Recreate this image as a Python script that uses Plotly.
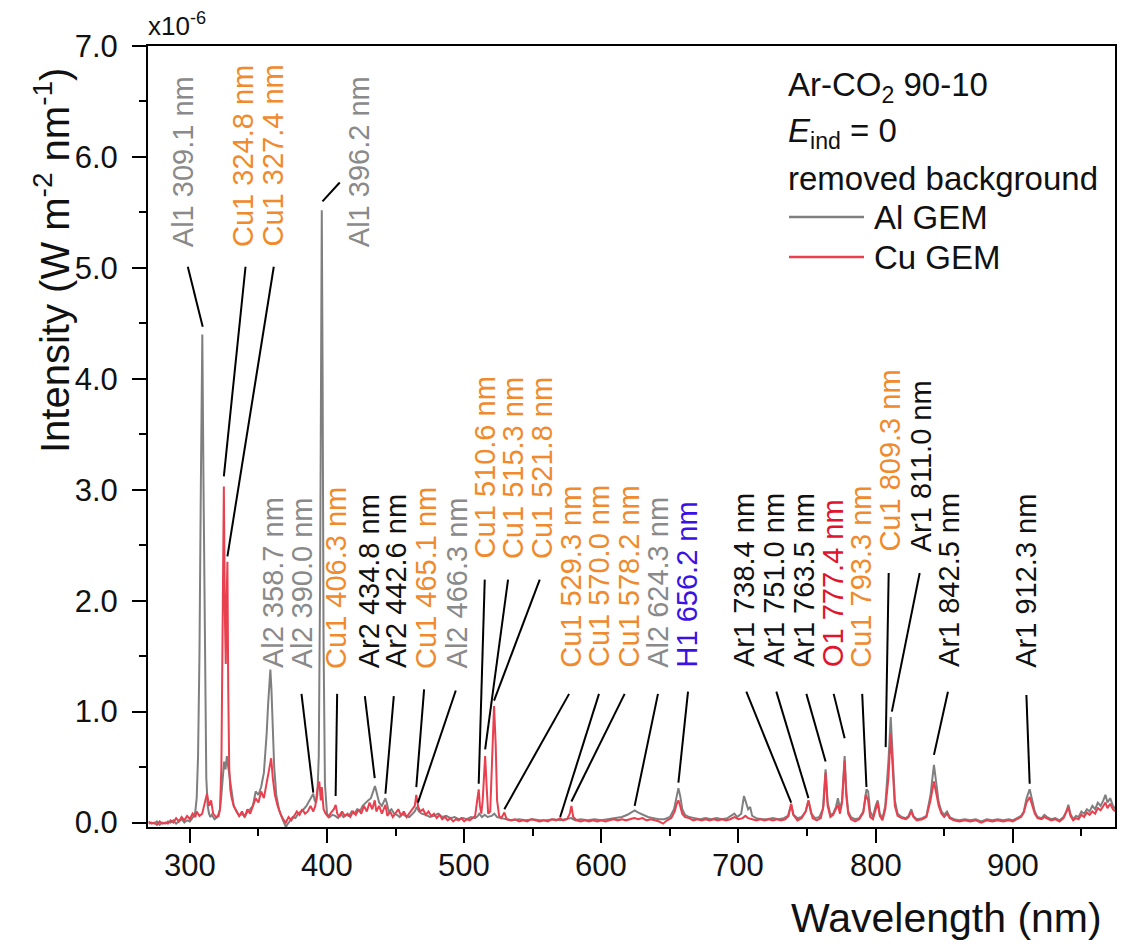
import plotly.graph_objects as go

# Emission spectra, intensity in units of 1e-6 W m^-2 nm^-1
AL_WL = [270, 272, 274, 276, 278, 280, 282, 284, 286, 288, 290, 292, 294, 296, 298, 300, 302, 303, 304, 305,
         306, 307, 308, 309.1, 310, 311, 312, 313, 314, 315, 316, 318, 320, 321, 322, 323, 324, 325, 326, 327,
         328, 329, 330, 331, 332, 334, 336, 338, 340, 342, 344, 346, 348, 350, 352, 354, 355, 356, 357, 358,
         358.7, 359.5, 360.5, 361.5, 363, 365, 367, 369, 370, 371, 373, 375, 377, 379, 381, 383, 385, 387, 389, 390,
         391, 392, 393, 394, 395, 395.6, 396.2, 396.8, 397.5, 398.5, 400, 402, 404, 406, 408, 410, 412, 414, 416, 418,
         420, 422, 424, 426, 428, 430, 432, 434, 435, 436, 438, 440, 442, 442.6, 443.5, 445, 447, 449, 451, 453,
         455, 457, 460, 462, 464, 465.5, 467, 469, 472, 475, 478, 481, 484, 487, 490, 493, 496, 499, 502, 505,
         508, 510, 511, 513, 515, 517, 520, 522, 524, 527, 530, 535, 540, 545, 550, 555, 560, 565, 570, 575,
         578, 581, 585, 590, 595, 600, 605, 610, 615, 619, 622, 624.3, 627, 630, 634, 638, 642, 646, 650, 653,
         655, 656.2, 657.5, 659, 661, 664, 668, 672, 676, 680, 684, 688, 692, 695, 697, 699, 702, 704, 705.5, 707,
         708.5, 710, 713, 717, 721, 725, 729, 733, 736, 738.4, 740, 743, 746, 749, 751, 753, 756, 759, 761.5, 763.5,
         765, 767, 769, 771, 772.5, 774, 775.5, 777.4, 778.5, 780, 782, 785, 788, 791, 793.3, 794.5, 796, 798, 800, 801.5,
         803, 805, 807, 809.3, 811, 812.5, 814, 816, 819, 822, 824, 826, 827.5, 830, 834, 837, 840, 842.5, 844, 846,
         848, 850, 852, 854, 857, 861, 865, 869, 873, 877, 881, 885, 889, 893, 897, 900, 903, 906, 908, 910,
         912.3, 914, 916, 918, 921, 923, 925, 928, 931, 934, 937, 939, 940.5, 942, 944, 946, 948, 950, 952, 954,
         956, 958, 960, 962, 964, 966, 967.5, 969, 971, 973, 975]
AL_I = [-0.01, 0.00, -0.01, 0.01, -0.02, 0.00, -0.01, 0.01, 0.00, 0.02, -0.01, 0.01, 0.03, 0.00, 0.02, 0.01, 0.04, 0.06, 0.10, 0.22,
        0.60, 1.50, 3.00, 4.40, 3.00, 1.30, 0.40, 0.15, 0.08, 0.05, 0.07, 0.03, 0.05, 0.08, 0.12, 0.25, 0.45, 0.55, 0.48, 0.60,
        0.50, 0.40, 0.30, 0.22, 0.15, 0.10, 0.06, 0.08, 0.05, 0.10, 0.12, 0.15, 0.28, 0.25, 0.32, 0.45, 0.60, 0.80, 1.05, 1.30,
        1.38, 1.20, 0.80, 0.50, 0.25, 0.12, 0.05, 0.00, -0.04, -0.02, 0.02, 0.05, 0.04, 0.08, 0.10, 0.12, 0.15, 0.20, 0.25, 0.26,
        0.20, 0.18, 0.25, 0.60, 2.20, 4.00, 5.52, 4.00, 1.60, 0.35, 0.08, 0.05, 0.07, 0.06, 0.04, 0.08, 0.05, 0.07, 0.06, 0.10,
        0.08, 0.12, 0.10, 0.15, 0.18, 0.20, 0.22, 0.30, 0.33, 0.28, 0.18, 0.15, 0.20, 0.22, 0.18, 0.10, 0.12, 0.08, 0.07, 0.05,
        0.08, 0.06, 0.05, 0.08, 0.10, 0.14, 0.10, 0.08, 0.07, 0.05, 0.06, 0.08, 0.05, 0.06, 0.04, 0.05, 0.03, 0.04, 0.03, 0.05,
        0.04, 0.06, 0.08, 0.05, 0.07, 0.05, 0.06, 0.08, 0.05, 0.04, 0.03, 0.02, 0.03, 0.02, 0.03, 0.02, 0.02, 0.03, 0.02, 0.03,
        0.04, 0.02, 0.03, 0.02, 0.03, 0.02, 0.03, 0.04, 0.05, 0.07, 0.09, 0.11, 0.09, 0.07, 0.05, 0.04, 0.03, 0.03, 0.05, 0.12,
        0.25, 0.31, 0.24, 0.12, 0.07, 0.05, 0.04, 0.03, 0.04, 0.03, 0.04, 0.03, 0.04, 0.06, 0.08, 0.05, 0.08, 0.24, 0.18, 0.12,
        0.14, 0.06, 0.04, 0.03, 0.03, 0.04, 0.03, 0.04, 0.06, 0.16, 0.07, 0.04, 0.05, 0.10, 0.20, 0.08, 0.04, 0.05, 0.12, 0.48,
        0.18, 0.07, 0.08, 0.14, 0.22, 0.12, 0.20, 0.60, 0.30, 0.10, 0.05, 0.03, 0.04, 0.10, 0.30, 0.28, 0.10, 0.05, 0.15, 0.20,
        0.08, 0.04, 0.15, 0.55, 0.95, 0.55, 0.20, 0.08, 0.05, 0.04, 0.06, 0.12, 0.06, 0.03, 0.04, 0.06, 0.25, 0.52, 0.35, 0.18,
        0.10, 0.07, 0.10, 0.05, 0.03, 0.02, 0.03, 0.02, 0.03, 0.01, 0.03, 0.02, 0.03, 0.02, 0.03, 0.02, 0.04, 0.06, 0.10, 0.22,
        0.30, 0.22, 0.10, 0.05, 0.04, 0.07, 0.05, 0.03, 0.04, 0.02, 0.05, 0.10, 0.16, 0.08, 0.03, 0.06, 0.05, 0.10, 0.08, 0.12,
        0.10, 0.15, 0.12, 0.18, 0.15, 0.20, 0.25, 0.18, 0.22, 0.15, 0.12]

CU_WL = [270, 272, 274, 276, 278, 280, 282, 284, 286, 288, 290, 292, 294, 296, 298, 300, 302, 304, 305, 307,
         309, 311, 312.5, 314, 315.5, 317, 319, 321, 322, 323, 324, 324.8, 325.5, 326.2, 326.8, 327.4, 328, 328.7, 329.5, 330.5,
         332, 334, 336, 338, 340, 342, 344, 346, 348, 350, 352, 354, 356, 358, 359.3, 360.5, 362, 364, 366, 368,
         370, 372, 374, 376, 378, 380, 382, 384, 386, 388, 390, 391.5, 393, 394.4, 395.5, 396.2, 397.5, 399, 401, 403,
         405, 406.3, 407.5, 409, 411, 413, 415, 417, 419, 421, 423, 425, 427, 429, 431, 433, 434.8, 436, 438, 440,
         442.6, 444, 446, 448, 450, 452, 454, 456, 458, 460, 462, 464, 465.1, 466.5, 468, 470, 472, 474, 476, 478,
         480, 482, 484, 486, 488, 490, 492, 494, 496, 498, 500, 502, 504, 506, 508, 509.5, 510.6, 511.5, 512.5, 513.5,
         515.3, 516.5, 517.5, 519, 520.5, 521.8, 523, 524, 525.5, 527, 529.3, 531, 534, 537, 540, 543, 546, 549, 552, 555,
         558, 561, 564, 567, 570, 572, 575, 577, 578.2, 579.5, 582, 585, 588, 591, 594, 597, 600, 603, 606, 609,
         612, 615, 618, 621, 624, 627, 630, 633, 636, 639, 642, 645, 648, 651, 653.5, 655, 656.2, 657.5, 659, 661,
         664, 667, 670, 673, 676, 679, 682, 685, 688, 691, 694, 697, 700, 703, 705, 707, 710, 713, 716, 719,
         722, 725, 728, 731, 734, 736.5, 738.4, 740, 743, 746, 749, 751, 752.5, 754, 757, 760, 762, 763.5, 765, 767,
         769, 771, 772.5, 774, 775.5, 777.4, 778.5, 780, 782, 785, 788, 791, 792.8, 794.5, 796, 798, 800, 801.5, 803, 805,
         807, 809.3, 811, 812.5, 814, 816, 819, 822, 824, 826, 827.5, 830, 834, 837, 840, 842.5, 844, 846, 848, 850,
         852, 854, 857, 861, 865, 869, 873, 877, 881, 885, 889, 893, 897, 900, 903, 906, 908, 910, 912.3, 914,
         916, 918, 921, 923, 925, 928, 931, 934, 937, 939, 940.5, 942, 944, 946, 948, 950, 952, 954, 956, 958,
         960, 962, 964, 966, 967.5, 969, 971, 973, 975]
CU_I = [0.01, -0.01, 0.00, -0.02, 0.01, -0.01, 0.00, -0.01, 0.02, 0.00, 0.04, 0.01, 0.05, 0.02, 0.06, 0.03, 0.08, 0.05, 0.10, 0.06,
        0.08, 0.18, 0.26, 0.15, 0.20, 0.08, 0.05, 0.06, 0.12, 0.50, 2.00, 3.03, 1.90, 1.43, 2.00, 2.35, 1.20, 0.50, 0.30, 0.22,
        0.15, 0.10, 0.06, 0.10, 0.05, 0.12, 0.08, 0.15, 0.22, 0.18, 0.28, 0.22, 0.35, 0.48, 0.58, 0.40, 0.25, 0.15, 0.08, 0.03,
        0.00, 0.05, 0.02, 0.06, 0.10, 0.07, 0.12, 0.08, 0.10, 0.15, 0.10, 0.15, 0.30, 0.37, 0.20, 0.32, 0.12, 0.08, 0.05, 0.09,
        0.12, 0.16, 0.08, 0.05, 0.10, 0.06, 0.08, 0.05, 0.10, 0.07, 0.12, 0.08, 0.15, 0.10, 0.18, 0.12, 0.20, 0.10, 0.15, 0.08,
        0.16, 0.06, 0.10, 0.05, 0.08, 0.12, 0.06, 0.10, 0.05, 0.08, 0.12, 0.15, 0.25, 0.14, 0.10, 0.12, 0.07, 0.10, 0.06, 0.08,
        0.04, 0.07, 0.03, 0.05, 0.02, 0.04, 0.01, 0.03, 0.02, 0.04, 0.01, 0.03, 0.02, 0.04, 0.06, 0.20, 0.30, 0.15, 0.08, 0.20,
        0.60, 0.30, 0.08, 0.10, 0.60, 1.05, 0.70, 0.20, 0.06, 0.04, 0.09, 0.03, 0.02, 0.03, 0.01, 0.02, 0.01, 0.03, 0.02, 0.01,
        0.02, 0.01, 0.03, 0.02, 0.04, 0.02, 0.03, 0.08, 0.15, 0.05, 0.02, 0.01, 0.02, 0.01, 0.02, 0.01, 0.02, 0.01, 0.02, 0.03,
        0.02, 0.03, 0.02, 0.03, 0.04, 0.03, 0.04, 0.02, 0.03, 0.02, 0.01, -0.01, 0.02, 0.04, 0.10, 0.17, 0.20, 0.15, 0.08, 0.05,
        0.04, 0.02, 0.03, 0.02, 0.03, 0.02, 0.03, 0.02, 0.03, 0.02, 0.03, 0.05, 0.03, 0.04, 0.06, 0.04, 0.03, 0.02, 0.03, 0.02,
        0.03, 0.02, 0.03, 0.02, 0.03, 0.06, 0.17, 0.07, 0.02, 0.04, 0.10, 0.20, 0.12, 0.04, 0.02, 0.04, 0.15, 0.45, 0.15, 0.05,
        0.07, 0.12, 0.16, 0.08, 0.18, 0.56, 0.25, 0.08, 0.03, 0.01, 0.03, 0.09, 0.25, 0.20, 0.05, 0.03, 0.12, 0.18, 0.06, 0.02,
        0.12, 0.40, 0.80, 0.45, 0.15, 0.06, 0.04, 0.03, 0.05, 0.10, 0.05, 0.02, 0.03, 0.05, 0.20, 0.37, 0.28, 0.15, 0.08, 0.05,
        0.08, 0.04, 0.02, 0.01, 0.02, 0.01, 0.02, 0.00, 0.02, 0.01, 0.02, 0.01, 0.02, 0.01, 0.03, 0.05, 0.09, 0.18, 0.23, 0.17,
        0.08, 0.04, 0.03, 0.05, 0.04, 0.02, 0.03, 0.01, 0.04, 0.09, 0.14, 0.06, 0.02, 0.04, 0.03, 0.07, 0.05, 0.09, 0.07, 0.10,
        0.08, 0.13, 0.11, 0.15, 0.18, 0.13, 0.17, 0.12, 0.10]

# Wavelength tick labels
X_TICKS = [300, 400, 500, 600, 700, 800, 900]

# Line identifications: text, species and peak wavelength
LINE_TEXT = ["Al1 309.1 nm", "Cu1 324.8 nm", "Cu1 327.4 nm", "Al1 396.2 nm",
             "Al2 358.7 nm", "Al2 390.0 nm", "Cu1 406.3 nm", "Ar2 434.8 nm", "Ar2 442.6 nm",
             "Cu1 465.1 nm", "Al2 466.3 nm", "Cu1 510.6 nm", "Cu1 515.3 nm", "Cu1 521.8 nm",
             "Cu1 529.3 nm", "Cu1 570.0 nm", "Cu1 578.2 nm", "Al2 624.3 nm", "H1 656.2 nm",
             "Ar1 738.4 nm", "Ar1 751.0 nm", "Ar1 763.5 nm", "O1 777.4 nm", "Cu1 793.3 nm",
             "Cu1 809.3 nm", "Ar1 811.0 nm", "Ar1 842.5 nm", "Ar1 912.3 nm"]
LINE_WL = [309.1, 324.8, 327.4, 396.2, 358.7, 390.0, 406.3, 434.8, 442.6, 465.1, 466.3, 510.6, 515.3, 521.8,
           529.3, 570.0, 578.2, 624.3, 656.2, 738.4, 751.0, 763.5, 777.4, 793.3, 809.3, 811.0, 842.5, 912.3]
LINE_SPECIES = ["Al", "Cu", "Cu", "Al", "Al", "Al", "Cu", "Ar", "Ar", "Cu", "Al", "Cu", "Cu", "Cu",
                "Cu", "Cu", "Cu", "Al", "H", "Ar", "Ar", "Ar", "O", "Cu", "Cu", "Ar", "Ar", "Ar"]

SPECIES_COLOR = {"Al": "#8a8a8a", "Cu": "#f08a2c", "Ar": "#111111", "H": "#3a12e6", "O": "#e0142c"}

# Label placement: label centre x, label base y, leader top (x, y), leader end y, leader end x offset
LABEL_X = [295.6, 338.8, 360.3, 423.9, 360.7, 381.4, 406.9, 431.2, 450.7, 472.5, 494.4, 515.0, 535.2, 556.3,
           578.2, 598.8, 620.2, 641.3, 662.5, 704.5, 726.4, 748.3, 769.4, 789.6, 810.2, 833.3, 853.9, 909.9]
LABEL_Y = [5.18, 5.18, 5.18, 5.18, 1.38, 1.38, 1.38, 1.38, 1.38, 1.38, 1.38, 2.37, 2.37, 2.37,
           1.39, 1.39, 1.39, 1.39, 1.39, 1.39, 1.39, 1.39, 1.39, 1.39, 2.43, 2.43, 1.39, 1.39]
LEAD_X0 = [298.5, 340.6, 361.2, 409.3, None, 381.4, 407.4, 427.6, 448.7, 470.8, 493.9, 515.0, 532.0, 555.1,
           576.5, 598.3, 617.0, 641.3, 663.2, 705.7, 727.6, 749.5, 769.4, 790.2, 809.5, 832.1, 852.7, 909.9]
LEAD_Y0 = [5.01, 5.01, 5.01, 5.77, None, 1.16, 1.16, 1.14, 1.14, 1.20, 1.19, 2.19, 2.19, 2.19,
           1.16, 1.16, 1.16, 1.16, 1.18, 1.18, 1.18, 1.16, 1.16, 1.16, 2.25, 2.25, 1.18, 1.15]
LEAD_Y1 = [4.47, 3.12, 2.40, 5.60, None, 0.27, 0.24, 0.40, 0.26, 0.32, 0.18, 0.35, 0.66, 1.10,
           0.12, 0.05, 0.19, 0.15, 0.36, 0.18, 0.22, 0.55, 0.76, 0.32, 0.68, 1.00, 0.61, 0.35]
LEAD_DX = [0.3, 0, 0, 0.5, 0, 0, 0, 0, 0, 0, 0, 0, 0, 0, 0, 0, 0, 0, 0, 0, 0, 0, 0, 0, -2.0, 0.8, 0, 0]

FONT = "Liberation Sans, Arial, sans-serif"
GRAY = "#7f7f7f"
RED = "#e8404e"

fig = go.Figure()
fig.add_trace(go.Scatter(x=AL_WL, y=AL_I, mode="lines", name="Al GEM",
                         line=dict(color=GRAY, width=2), showlegend=False))
fig.add_trace(go.Scatter(x=CU_WL, y=CU_I, mode="lines", name="Cu GEM",
                         line=dict(color=RED, width=2), showlegend=False))

annotations = []
shapes = []
for i, text in enumerate(LINE_TEXT):
    annotations.append(dict(x=LABEL_X[i], y=LABEL_Y[i], xref="x", yref="y", text=text,
                            textangle=-90, showarrow=False, xanchor="center", yanchor="bottom",
                            borderpad=0,
                            font=dict(family=FONT, size=29, color=SPECIES_COLOR[LINE_SPECIES[i]])))
    if LEAD_X0[i] is not None:
        shapes.append(dict(type="line", xref="x", yref="y",
                           x0=LEAD_X0[i], y0=LEAD_Y0[i], x1=LINE_WL[i] + LEAD_DX[i], y1=LEAD_Y1[i],
                           line=dict(color="black", width=2)))

# plot area in pixels: x 148..1115, y 46..827
def px(xp):
    return (xp - 148) / 967.0

def py(yp):
    return (827 - yp) / 781.0

# wavelength tick labels, set a little closer to the axis than the default placement
for t in X_TICKS:
    annotations.append(dict(x=t, y=py(866), xref="x", yref="paper", text=str(t), showarrow=False,
                            xanchor="center", yanchor="middle", borderpad=0,
                            font=dict(family=FONT, size=31, color="#111111")))

# legend block
legend_lines = [("Ar-CO<sub>2</sub> 90-10", 87), ("<i>E</i><sub>ind</sub> = 0", 133), ("removed background", 178)]
for txt, yc in legend_lines:
    annotations.append(dict(x=px(787), y=py(yc), xref="paper", yref="paper", text=txt, showarrow=False,
                            xanchor="left", yanchor="middle", borderpad=0,
                            font=dict(family=FONT, size=33, color="#111111")))
for name, color, yc in [("Al GEM", GRAY, 217), ("Cu GEM", RED, 257)]:
    shapes.append(dict(type="line", xref="paper", yref="paper", x0=px(789), x1=px(864), y0=py(yc), y1=py(yc),
                       line=dict(color=color, width=2.5)))
    annotations.append(dict(x=px(873), y=py(yc), xref="paper", yref="paper", text=name, showarrow=False,
                            xanchor="left", yanchor="middle", borderpad=0,
                            font=dict(family=FONT, size=33, color="#111111")))

# axis titles and multiplier
annotations.append(dict(x=px(52), y=py(261), xref="paper", yref="paper",
                        text="Intensity (W m<sup>-2</sup> nm<sup>-1</sup>)", textangle=-90, showarrow=False,
                        xanchor="center", yanchor="middle", font=dict(family=FONT, size=40, color="#111111")))
annotations.append(dict(x=px(1104), y=py(918), xref="paper", yref="paper", text="Wavelength (nm)",
                        showarrow=False, xanchor="right", yanchor="middle",
                        font=dict(family=FONT, size=41, color="#111111")))
annotations.append(dict(x=px(147), y=py(42), xref="paper", yref="paper", text="x10<sup>-6</sup>",
                        showarrow=False, xanchor="left", yanchor="bottom", borderpad=0,
                        font=dict(family=FONT, size=26, color="#111111")))

axis_common = dict(showgrid=False, zeroline=False, showline=True, linecolor="black", linewidth=2,
                   mirror=True, ticks="outside", ticklen=14, tickwidth=2, tickcolor="black",
                   tickfont=dict(family=FONT, size=31, color="#111111"))

fig.update_layout(
    width=1133, height=947,
    margin=dict(l=148, r=18, t=46, b=120),
    paper_bgcolor="white", plot_bgcolor="white",
    xaxis=dict(range=[269.5, 974.5], tickmode="array", tickvals=X_TICKS, showticklabels=False,
               minor=dict(ticks="outside", dtick=50, tick0=300, ticklen=7, tickwidth=2, tickcolor="black"),
               **axis_common),
    yaxis=dict(range=[-0.04, 7.0], tickmode="linear", tick0=0, dtick=1, tickformat=".1f",
               minor=dict(ticks="outside", dtick=0.5, tick0=0, ticklen=7, tickwidth=2, tickcolor="black"),
               ticklabelstandoff=8, **axis_common),
    annotations=annotations,
    shapes=shapes,
)

fig.write_html("out.html")
